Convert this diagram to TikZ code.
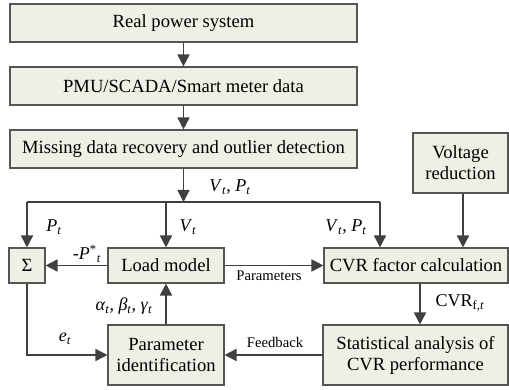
\documentclass[tikz,border=0pt]{standalone}
\usepackage{fontspec}
\setmainfont{Liberation Serif}
\usetikzlibrary{arrows.meta}
\definecolor{boxfill}{HTML}{EEF0E6}
\definecolor{boxline}{HTML}{555555}
\definecolor{arr}{HTML}{404040}
\newcommand{\myit}[1]{\textit{#1}}
\newcommand{\mysub}[1]{\textsubscript{#1}}
\newcommand{\myVt}{\myit{V}\mysub{\myit{t}}}
\newcommand{\myPt}{\myit{P}\mysub{\myit{t}}}
\begin{document}
\begin{tikzpicture}[x=1pt,y=-1pt,
  blk/.style={draw=boxline,fill=boxfill,line width=1.1pt,inner sep=0pt,align=center,
    font=\fontsize{18.6}{21}\selectfont},
  conn/.style={draw=arr,line width=1.6pt,-{Triangle[length=12pt,width=12pt]}},
  plain/.style={draw=arr,line width=1.6pt},
  lbl/.style={inner sep=0pt,font=\fontsize{18}{21}\selectfont},
  small/.style={inner sep=0pt,font=\fontsize{14.7}{17}\selectfont}]
\useasboundingbox (0,0) rectangle (509,390);
% boxes
\node[blk,minimum width=347pt,minimum height=38pt] (sys) at (183.5,23) {Real power system};
\node[blk,minimum width=347pt,minimum height=38pt] (pmu) at (183.5,86) {PMU/SCADA/Smart meter data};
\node[blk,minimum width=347pt,minimum height=38pt] (mdr) at (183.5,149) {Missing data recovery and outlier detection};
\node[blk,minimum width=95pt,minimum height=60pt] (vr) at (460.5,163) {Voltage\\reduction};
\node[blk,minimum width=36pt,minimum height=35pt] (sig) at (27,265.5) {Σ};
\node[blk,minimum width=116pt,minimum height=35pt] (load) at (166,265.5) {Load model};
\node[blk,minimum width=184pt,minimum height=35pt] (cvr) at (416,265.5) {CVR factor calculation};
\node[blk,minimum width=116pt,minimum height=60pt] (par) at (166,355) {Parameter\\identification};
\node[blk,minimum width=185pt,minimum height=60pt] (stat) at (415.5,355) {Statistical analysis of\\CVR performance};
% junction coordinates
\coordinate (j) at (183.5,202);
\coordinate (jl) at (27,202);
\coordinate (jm) at (166,202);
\coordinate (jr) at (380,202);
% connectors
\draw[conn] (sys) -- (pmu);
\draw[conn] (pmu) -- (mdr);
\draw[conn] (mdr) -- (j);
\draw[plain] (jl) -- (jr);
\draw[conn] (jl) -- (sig);
\draw[conn] (jm) -- (load);
\draw[conn] (jr) -- (jr |- cvr.north);
\draw[conn] (vr.south -| 463,0) -- (cvr.north -| 463,0);
\draw[conn] (load) -- (sig);
\draw[conn] (load) -- (cvr);
\draw[conn] (cvr.south -| 420,0) -- (stat.north -| 420,0);
\draw[conn] (par) -- (load);
\draw[conn] (sig.south) |- (par.west);
\draw[conn] (stat) -- (par);
% labels
\node[lbl] (l1) at (230,187) {\myVt, \myPt};
\node[lbl] (l2) at (54,227) {\myPt};
\node[lbl] (l3) at (188,227) {\myVt};
\node[lbl] (l4) at (346,227) {\myVt, \myPt};
\node[lbl] (l5) at (87,254) {-\myit{P}\textsuperscript{*}\mysub{\myit{t}}};
\node[lbl] (l6) at (124,306) {\myit{α}\mysub{\myit{t}}, \myit{β}\mysub{\myit{t}}, \myit{γ}\mysub{\myit{t}}};
\node[lbl] (l7) at (65,339) {\myit{e}\mysub{\myit{t}}};
\node[lbl] (l8) at (460,303) {CVR\mysub{f,\myit{t}}};
\node[small] (l9) at (269,276) {Parameters};
\node[small] (l10) at (275,342) {Feedback};
\end{tikzpicture}
\end{document}
